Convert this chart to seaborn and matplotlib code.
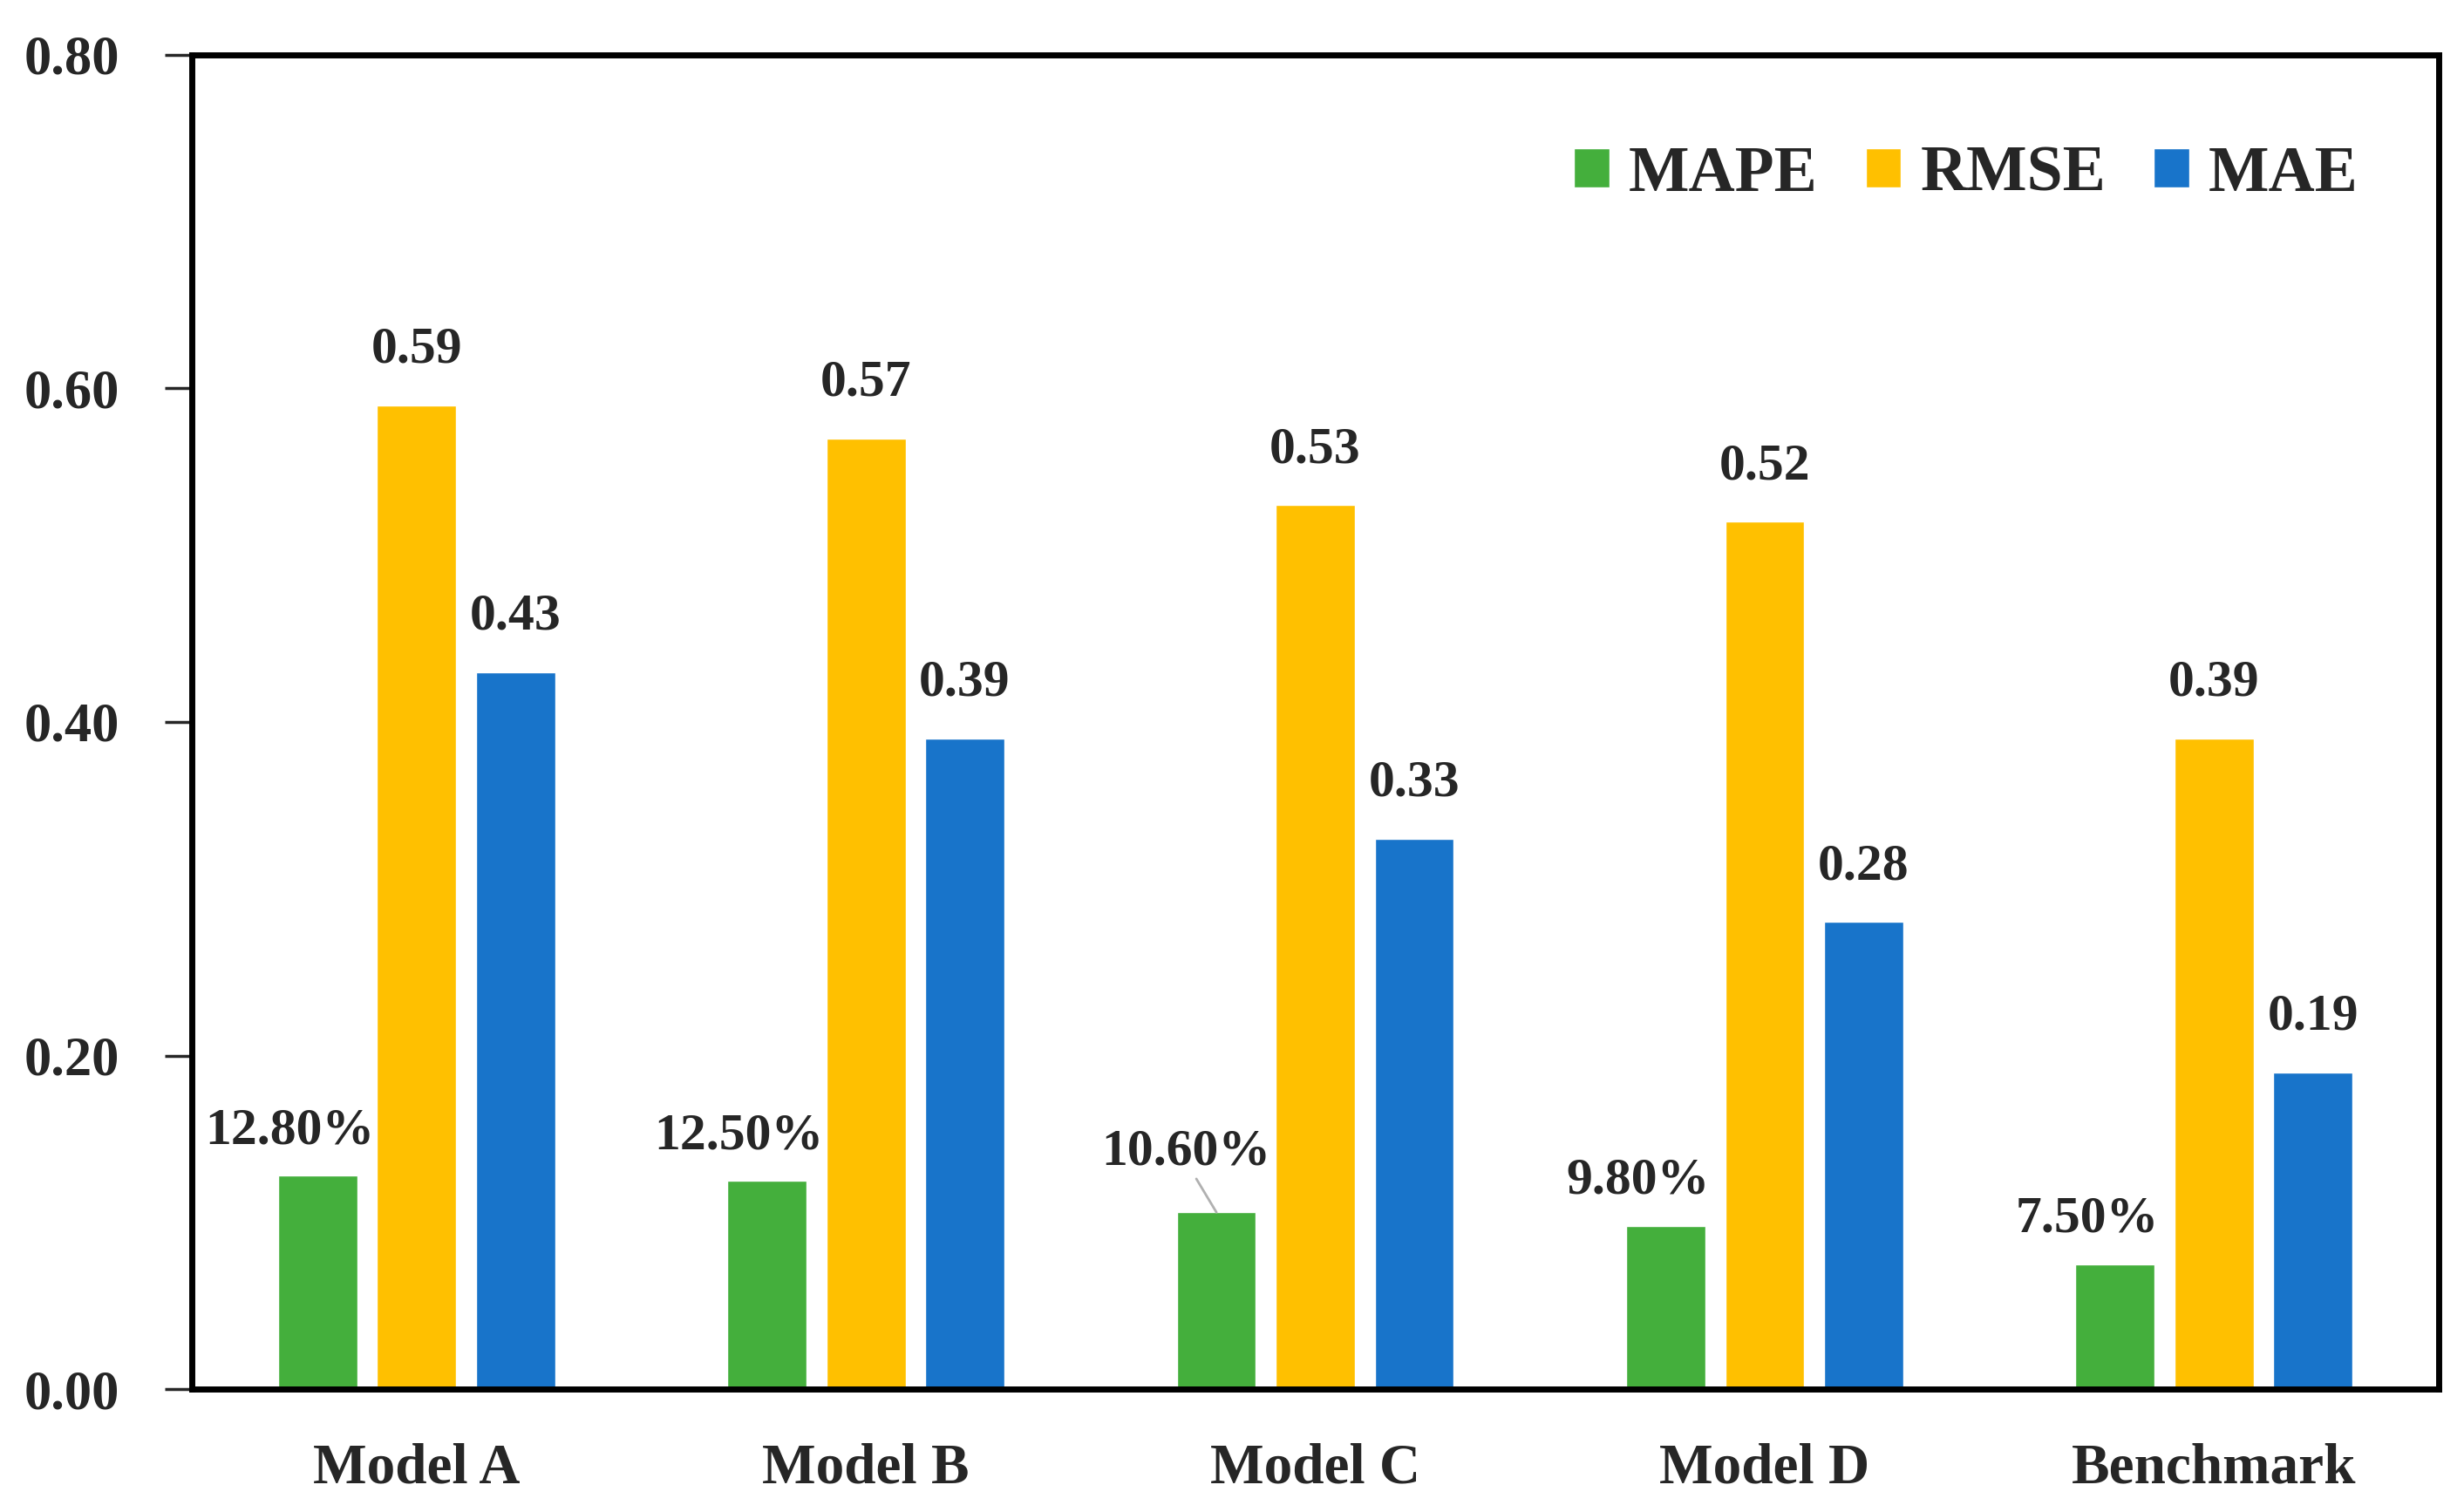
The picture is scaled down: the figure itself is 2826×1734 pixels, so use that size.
import seaborn as sns
import matplotlib.pyplot as plt
import pandas as pd

models = ["Model A", "Model B", "Model C", "Model D", "Benchmark"]
metrics = ["MAPE", "RMSE", "MAE"]
mape = [0.128, 0.125, 0.106, 0.098, 0.075]
rmse = [0.59, 0.57, 0.53, 0.52, 0.39]
mae = [0.43, 0.39, 0.33, 0.28, 0.19]
yticks = [0.0, 0.2, 0.4, 0.6, 0.8]

colors = ["#44AF3C", "#FFC000", "#1874CA"]

rows = []
for m, a, r, e in zip(models, mape, rmse, mae):
    rows.append({"model": m, "metric": "MAPE", "value": a})
    rows.append({"model": m, "metric": "RMSE", "value": r})
    rows.append({"model": m, "metric": "MAE", "value": e})
data = pd.DataFrame(rows)

sns.set_style("white")
plt.rcParams['font.family'] = ['Liberation Serif', 'DejaVu Serif']
plt.rcParams['font.weight'] = 'bold'

fig = plt.figure(figsize=(28.26, 17.34), dpi=100)
ax = fig.add_axes([0.0779, 0.0813, 0.9118, 0.8824])

sns.barplot(data=data, x="model", y="value", hue="metric", hue_order=metrics,
            palette=colors, width=0.66, gap=0.2, saturation=1, ax=ax)

ax.set_ylim(0, 0.8)
ax.set_yticks(yticks)
ax.set_yticklabels([f"{t:.2f}" for t in yticks])
ax.set_xlabel("")
ax.set_ylabel("")

for side in ["left", "right", "top", "bottom"]:
    ax.spines[side].set_visible(True)
    ax.spines[side].set_color("black")
    ax.spines[side].set_linewidth(5)

ax.tick_params(axis="y", direction="out", length=22, width=2.5, pad=38,
               labelsize=45, left=True)
ax.tick_params(axis="x", length=0, pad=44, labelsize=47)
for lab in ax.get_xticklabels() + ax.get_yticklabels():
    lab.set_fontweight("bold")

# value labels
for metric, cont in zip(metrics, ax.containers):
    for i, bar in enumerate(cont):
        h = bar.get_height()
        cx = bar.get_x() + bar.get_width() / 2
        if metric == "MAPE":
            txt = f"{h * 100:.2f}%"
            if i == 2:
                ax.annotate(txt, xy=(cx, h), xytext=(-25, 30), textcoords="offset points",
                            ha="center", va="bottom", fontsize=43, fontweight="bold",
                            arrowprops=dict(arrowstyle="-", color="#B0B0B0", lw=2,
                                            shrinkA=0, shrinkB=0,
                                            relpos=(0.55, 0)))
            else:
                ax.annotate(txt, xy=(cx, h), xytext=(-23, 17), textcoords="offset points",
                            ha="center", va="bottom", fontsize=43, fontweight="bold")
        else:
            ax.annotate(f"{h:.2f}", xy=(cx, h), xytext=(0, 26), textcoords="offset points",
                        ha="center", va="bottom", fontsize=43, fontweight="bold")

ax.legend(loc="center right", bbox_to_anchor=(0.99, 0.91), ncol=3, frameon=False,
          prop={"size": 53, "weight": "bold"}, handlelength=0.55, handleheight=0.55,
          handletextpad=0.3, columnspacing=0.75)

fig.savefig("out.png", dpi=100, facecolor="white")
